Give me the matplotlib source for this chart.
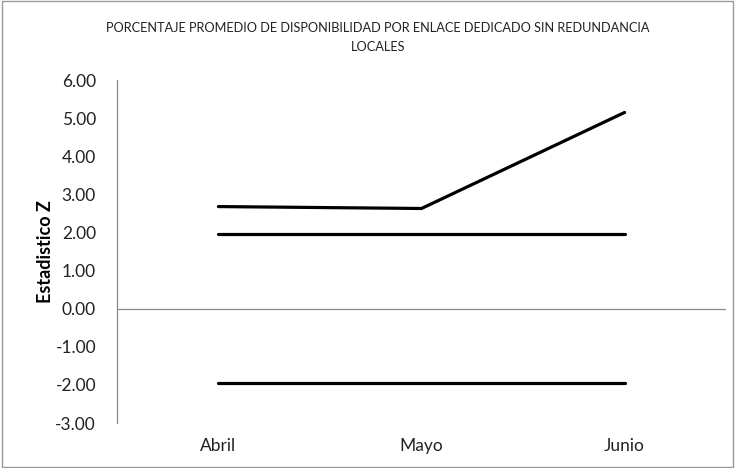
import matplotlib
matplotlib.use('Agg')
from matplotlib import pyplot
from matplotlib.patches import Rectangle

# datos
meses = ['Abril', 'Mayo', 'Junio']
z_calculado = [2.68, 2.63, 5.15]
z_critico_sup = [1.96, 1.96, 1.96]
z_critico_inf = [-1.96, -1.96, -1.96]
y_ticks = [-3, -2, -1, 0, 1, 2, 3, 4, 5, 6]

pyplot.rcParams['font.family'] = ['Lato', 'DejaVu Sans']

fig = pyplot.figure(figsize=(7.35, 4.68), dpi=100)
ax = fig.add_axes([0.159, 0.096, 0.829, 0.733])

x = list(range(len(meses)))
ax.plot(x, z_calculado, color='black', lw=2.3, solid_capstyle='round', solid_joinstyle='miter')
ax.plot(x, z_critico_sup, color='black', lw=2.3, solid_capstyle='round')
ax.plot(x, z_critico_inf, color='black', lw=2.3, solid_capstyle='round')

ax.axhline(0, color='#888888', lw=0.9, zorder=0)
ax.set_xlim(-0.5, 2.5)
ax.set_ylim(-3, 6)
ax.set_yticks(y_ticks)
ax.set_yticklabels([f'{v:.2f}' for v in y_ticks], fontsize=12.5, color='#222222')
ax.set_xticks(x)
ax.set_xticklabels(meses, fontsize=12.5, color='#222222')
ax.tick_params(axis='y', length=0, pad=15)
ax.tick_params(axis='x', length=0, pad=11)

for s in ['top', 'right', 'bottom']:
    ax.spines[s].set_visible(False)
ax.spines['left'].set_color('#888888')
ax.spines['left'].set_linewidth(0.9)

ax.set_ylabel('Estadistico Z', fontsize=13, fontweight='bold', labelpad=1)

fig.text(0.514, 0.92, 'PORCENTAJE PROMEDIO DE DISPONIBILIDAD POR ENLACE DEDICADO SIN REDUNDANCIA\nLOCALES',
         ha='center', va='center', fontsize=9.15, linespacing=1.65, color='#222222')

# borde del area del grafico
fig.patches.append(Rectangle((0.003, 0.003), 0.994, 0.994, transform=fig.transFigure,
                             fill=False, edgecolor='#999999', lw=1))

fig.savefig('out.png', dpi=100)
pyplot.close()
